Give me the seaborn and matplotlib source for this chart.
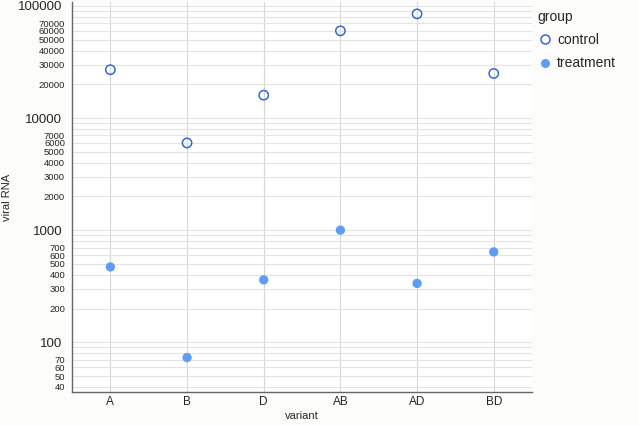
import matplotlib
matplotlib.use("Agg")
import matplotlib.pyplot as plt
import matplotlib.ticker as mticker
from matplotlib.lines import Line2D
import pandas as pd
import seaborn as sns

variants = ["A", "B", "D", "AB", "AD", "BD"]
control = [27000, 6000, 16000, 60000, 85000, 25000]
treatment = [470, 73, 360, 1000, 335, 640]

major_ticks = [100, 1000, 10000, 100000]
minor_ticks = [m * 10 ** e for e in range(1, 5) for m in range(2, 10)]
minor_ticks = [t for t in minor_ticks if t >= 40]
minor_labeled = {2, 3, 4, 5, 6, 7}

df = pd.DataFrame({
    "variant": variants * 2,
    "viral RNA": control + treatment,
    "group": ["control"] * len(variants) + ["treatment"] * len(variants),
})

sns.set_style("white")
plt.rcParams["font.family"] = ["Liberation Sans", "DejaVu Sans"]

fig = plt.figure(figsize=(6.39, 4.26), dpi=100, facecolor="#fcfcfa")
ax = fig.add_axes([0.1127, 0.0798, 0.72, 0.915])
ax.set_facecolor("white")

ctrl_col = "#3568d4"
trt_col = "#5f9cf5"

sns.scatterplot(data=df[df.group == "control"], x="variant", y="viral RNA",
                ax=ax, s=45, facecolor="none", edgecolor=ctrl_col,
                linewidth=1.1, legend=False)
sns.scatterplot(data=df[df.group == "treatment"], x="variant", y="viral RNA",
                ax=ax, s=45, color=trt_col, edgecolor="none", legend=False)

ax.set_yscale("log")
ax.set_ylim(36, 108000)
ax.set_xlim(-0.5, 5.5)

ax.yaxis.set_major_locator(mticker.FixedLocator(major_ticks))
ax.yaxis.set_major_formatter(mticker.FixedFormatter([str(t) for t in major_ticks]))
ax.yaxis.set_minor_locator(mticker.FixedLocator(minor_ticks))
minor_labels = []
for t in minor_ticks:
    lead = int(str(t)[0])
    minor_labels.append(str(t) if lead in minor_labeled else "")
ax.yaxis.set_minor_formatter(mticker.FixedFormatter(minor_labels))

ax.tick_params(axis="y", which="major", labelsize=9.5, length=5, width=0.8,
               color="#666666", pad=2)
ax.tick_params(axis="y", which="minor", labelsize=6.8, length=3, width=0.8,
               color="#666666", pad=2)
ax.tick_params(axis="x", labelsize=8.5, length=0, pad=3)

ax.grid(True, which="both", axis="y", color="#e3e3e3", linewidth=0.8)
ax.grid(True, which="major", axis="x", color="#d6d6d6", linewidth=0.8)
ax.set_axisbelow(True)

for side in ["top", "right"]:
    ax.spines[side].set_visible(False)
for side in ["left", "bottom"]:
    ax.spines[side].set_color("#666666")
    ax.spines[side].set_linewidth(1.0)

ax.set_xlabel("variant", fontsize=8, labelpad=2)
ax.set_ylabel("viral RNA", fontsize=8, labelpad=4)

handles = [
    Line2D([], [], marker="o", linestyle="", markerfacecolor="none",
           markeredgecolor=ctrl_col, markeredgewidth=1.1, markersize=6.5,
           label="control"),
    Line2D([], [], marker="o", linestyle="", markerfacecolor=trt_col,
           markeredgecolor="none", markersize=6.5, label="treatment"),
]
leg = fig.legend(handles=handles, title="group", loc="upper left",
                 bbox_to_anchor=(0.821, 1.007), frameon=False, fontsize=10,
                 title_fontsize=10, handletextpad=0.25, labelspacing=0.68,
                 handlelength=1.2)
leg._legend_box.align = "left"

fig.savefig("out.png", dpi=100, facecolor=fig.get_facecolor())
